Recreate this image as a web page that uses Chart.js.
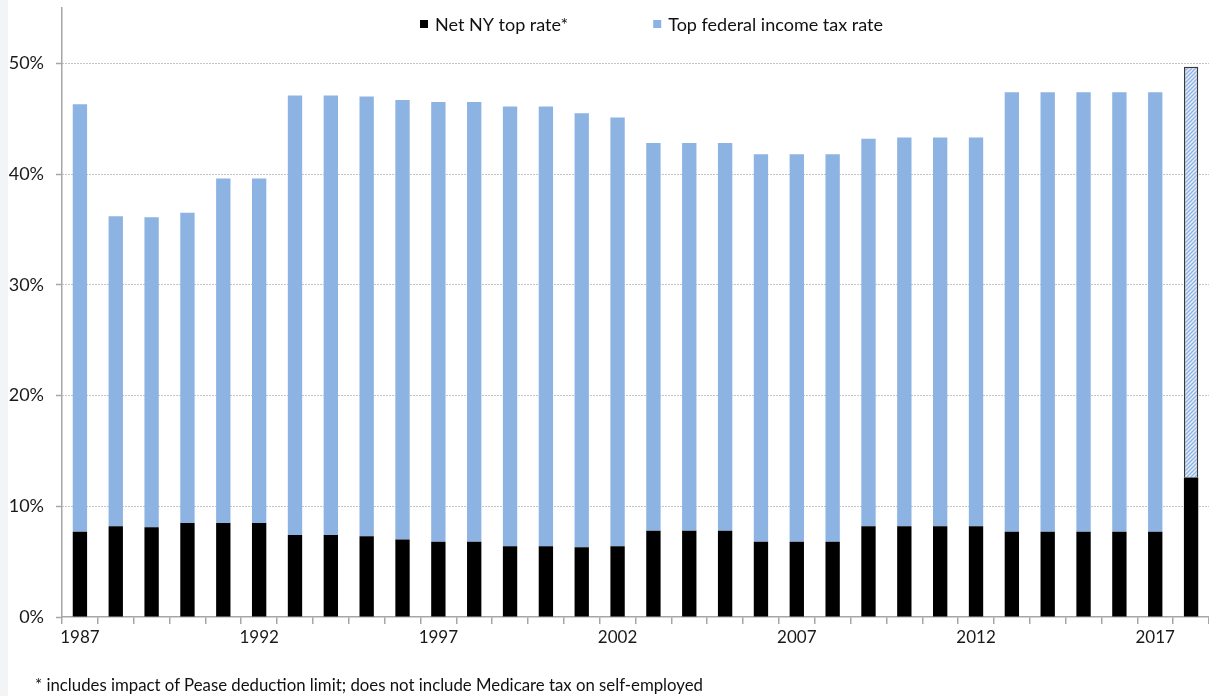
<!DOCTYPE html>
<html>
<head>
<meta charset="utf-8">
<script src="https://cdn.jsdelivr.net/npm/chart.js@4/dist/chart.umd.min.js"></script>
<style>
html, body { margin: 0; padding: 0; background: #fff; overflow: hidden; }
#wrap { position: relative; width: 1209px; height: 696px; }
#strip { position: absolute; left: 0; top: 0; width: 8px; height: 696px; background: #f3f4f6; }
#note { position: absolute; left: 35px; top: 674px; font: 16.8px Lato; color: #111; white-space: nowrap; }
</style>
</head>
<body>
<div id="wrap">
<canvas id="myChart" width="1209" height="696"></canvas>
<div id="strip"></div>
<div id="note">* includes impact of Pease deduction limit; does not include Medicare tax on self-employed</div>
</div>
<script>
// years along the x-axis
var years = ['1987', '1988', '1989', '1990', '1991', '1992', '1993', '1994', '1995', '1996',
             '1997', '1998', '1999', '2000', '2001', '2002', '2003', '2004', '2005', '2006',
             '2007', '2008', '2009', '2010', '2011', '2012', '2013', '2014', '2015', '2016',
             '2017', '2018'];
// only these years get a label
var shownYears = ['1987', '1992', '1997', '2002', '2007', '2012', '2017'];

// rates in percent
var nyRate = [7.7, 8.2, 8.1, 8.5, 8.5, 8.5, 7.4, 7.4, 7.3, 7.0,
              6.8, 6.8, 6.4, 6.4, 6.3, 6.4, 7.8, 7.8, 7.8, 6.8,
              6.8, 6.8, 8.2, 8.2, 8.2, 8.2, 7.7, 7.7, 7.7, 7.7,
              7.7, 12.6];
var fedRate = [38.6, 28.0, 28.0, 28.0, 31.1, 31.1, 39.7, 39.7, 39.7, 39.7,
               39.7, 39.7, 39.7, 39.7, 39.2, 38.7, 35.0, 35.0, 35.0, 35.0,
               35.0, 35.0, 35.0, 35.1, 35.1, 35.1, 39.7, 39.7, 39.7, 39.7,
               39.7, 37.1];

var yTicks = [0, 10, 20, 30, 40, 50];

var ctx = document.getElementById('myChart');
var BLUE = '#8db3e2';
var FONT = 'Lato';

function makeHatch() //diagonal stripes for the last (projected) bar
{
    var c = document.createElement('canvas');
    c.width = 4;
    c.height = 4;
    var g = c.getContext('2d');
    g.fillStyle = '#e4edf9';
    g.fillRect(0, 0, 4, 4);
    g.strokeStyle = BLUE;
    g.lineWidth = 1.3;
    g.beginPath();
    g.moveTo(0, 4); g.lineTo(4, 0);
    g.moveTo(-1, 1); g.lineTo(1, -1);
    g.moveTo(3, 5); g.lineTo(5, 3);
    g.stroke();
    return ctx.getContext('2d').createPattern(c, 'repeat');
}

var hatch = makeHatch();
var last = years.length - 1;
var fedColors = years.map(function (y, i) { return i === last ? hatch : BLUE; });
var fedBorder = years.map(function (y, i) { return i === last ? 1.5 : 0; });

// legend drawn inside the plot area, like the original
var topLegend = {
    id: 'topLegend',
    afterDraw: function (chart) {
        var c = chart.ctx;
        var x = 420;
        c.save();
        c.font = '18px ' + FONT;
        c.textBaseline = 'middle';
        chart.data.datasets.forEach(function (ds) {
            c.fillStyle = ds.legendColor;
            c.fillRect(x, 20, 8, 8);
            c.fillStyle = '#111';
            c.fillText(ds.label, x + 15, 25);
            x += 15 + c.measureText(ds.label).width + 85;
        });
        c.restore();
    }
};

var myChart = new Chart(ctx,
{
    type: 'bar',
    data:
    {
        labels: years,
        datasets:
        [
            {
                label: 'Net NY top rate*',
                data: nyRate,
                backgroundColor: '#000000',
                legendColor: '#000000',
                borderWidth: 0
            },
            {
                label: 'Top federal income tax rate',
                data: fedRate,
                backgroundColor: fedColors,
                legendColor: BLUE,
                borderColor: '#3a3a3a',
                borderWidth: fedBorder
            }
        ]
    },
    options:
    {
        responsive: false,
        animation: false,
        layout: { padding: { top: 8, bottom: 48, left: 0, right: 0 } },
        plugins: {
            legend: { display: false },
            tooltip: { enabled: false }
        },
        datasets: {
            bar: { categoryPercentage: 1.0, barPercentage: 0.4 }
        },
        scales:
        {
            x: {
                stacked: true,
                afterFit: function (s) { s.height = 31; s.paddingLeft = 0; s.paddingRight = 0; },
                grid: { drawOnChartArea: false, offset: true, tickLength: 7, color: '#a6a6a6', lineWidth: 1.5 },
                border: { color: '#a6a6a6', width: 1.5 },
                ticks: {
                    autoSkip: false,
                    maxRotation: 0,
                    padding: 3,
                    color: '#1a1a1a',
                    font: { size: 17, family: FONT },
                    callback: function (v, i) {
                        return shownYears.indexOf(years[i]) >= 0 ? years[i] : '';
                    }
                }
            },
            y: {
                stacked: true,
                min: 0,
                max: 55,
                afterFit: function (s) { s.width = 62; s.paddingTop = 0; s.paddingBottom = 0; },
                afterBuildTicks: function (s) {
                    s.ticks = yTicks.map(function (v) { return { value: v }; });
                },
                grid: {
                    color: function (c) { return c.tick && c.tick.value === 0 ? 'rgba(0,0,0,0)' : '#8a8a8a'; },
                    lineWidth: 1,
                    tickLength: 6,
                    tickColor: '#a6a6a6',
                    tickWidth: 1.5,
                    tickBorderDash: []
                },
                border: { color: '#a6a6a6', width: 1.5, dash: [1, 2] },
                ticks: {
                    padding: 12,
                    color: '#1a1a1a',
                    font: { size: 18, family: FONT },
                    callback: function (v) { return v + '%'; }
                }
            }
        }
    },
    plugins: [topLegend]
});
</script>
</body>
</html>
